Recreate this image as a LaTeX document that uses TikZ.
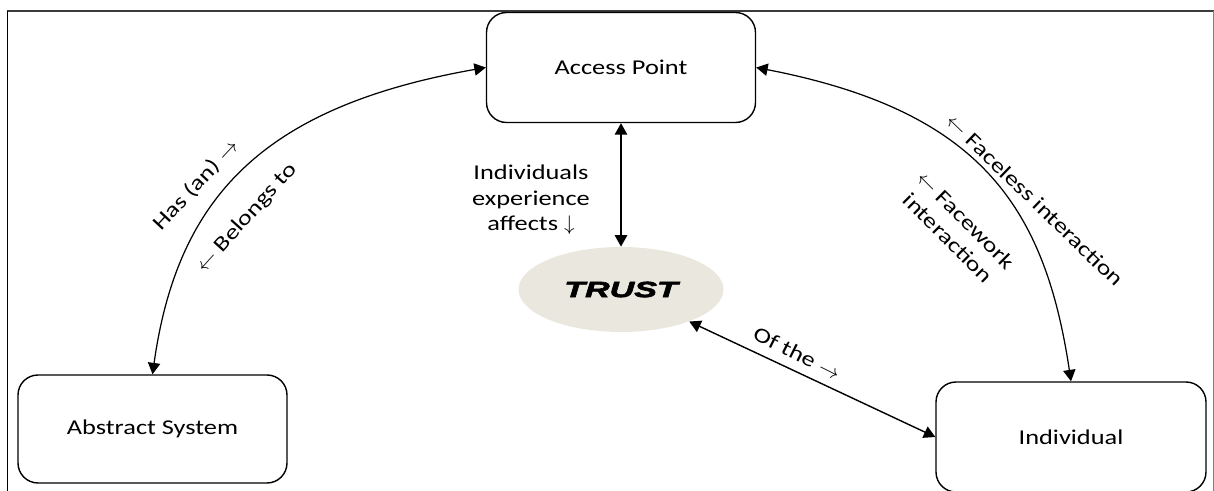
\documentclass[tikz,border=0pt]{standalone}
\usepackage{fontspec}
\setmainfont{Carlito}[FakeStretch=1.25]
\newfontfamily\trustfont{Liberation Sans}[FakeStretch=1.55,BoldItalicFeatures={FakeBold=3}]
\usepackage{xcolor}
\usetikzlibrary{shapes,arrows.meta,positioning}
\definecolor{trustfill}{RGB}{234,232,222}
\definecolor{framegray}{RGB}{60,60,60}

\begin{document}
\begin{tikzpicture}[
  font=\fontsize{12}{14.4}\selectfont,
  >={Triangle[length=6.5pt,width=7pt]},
  box/.style={draw,line width=0.8pt,rounded corners=0.4cm,minimum width=5.38cm,minimum height=2.2cm},
  link/.style={<->,line width=0.7pt},
  lbl/.style={inner sep=1pt}]
\useasboundingbox (0,0) rectangle (24.28,9.82);
% Frame
\draw[framegray,line width=1.1pt] (0.15,9.6) -- (24.28,9.6);
\draw[line width=0.6pt] (0.15,9.6) -- (0.15,0);
\draw[gray,line width=0.4pt] (24.26,9.6) -- (24.26,0);
% Boxes
\node[box] (ap) at (12.42,8.47) {Access Point};
\node[box,minimum height=2.16cm] (abs) at (3.05,1.24) {Abstract System};
\node[box,minimum width=5.4cm] (ind) at (21.42,1.08) {Individual};
% Trust in the middle
\node[ellipse,fill=trustfill,minimum width=4.1cm,minimum height=1.7cm] (trust) at (12.42,4.03) {\fontsize{12.5}{15}\selectfont\trustfont\bfseries\itshape TRUST};
% Connectors
\draw[link,line width=1pt] (ap) -- (trust);
\draw[link,line width=0.8pt] (trust) -- (ind.west);
\draw[link] (ap.west) .. controls +(190:4.5) and +(82:3.6) .. (abs.north);
\draw[link] (ap.east) .. controls +(-11:4.5) and +(98.5:3.6) .. (ind.north);
% Labels
\node[lbl,rotate=47] (has) at (3.92,6.12) {Has (an) $\rightarrow$};
\node[lbl,rotate=48] (belongs) at (4.94,5.46) {$\leftarrow$ Belongs to};
\node[lbl,align=center] (exp) at (10.62,5.82) {Individuals\\experience\\affects $\downarrow$};
\node[lbl,rotate=-44] (faceless) at (20.7,5.82) {$\leftarrow$ Faceless interaction};
\node[lbl,rotate=-45,align=center] (facework) at (19.14,5.24) {$\leftarrow$ Facework\\interaction};
\node[lbl,rotate=-26.6] (ofthe) at (15.94,2.76) {Of the $\rightarrow$};
\end{tikzpicture}
\end{document}
